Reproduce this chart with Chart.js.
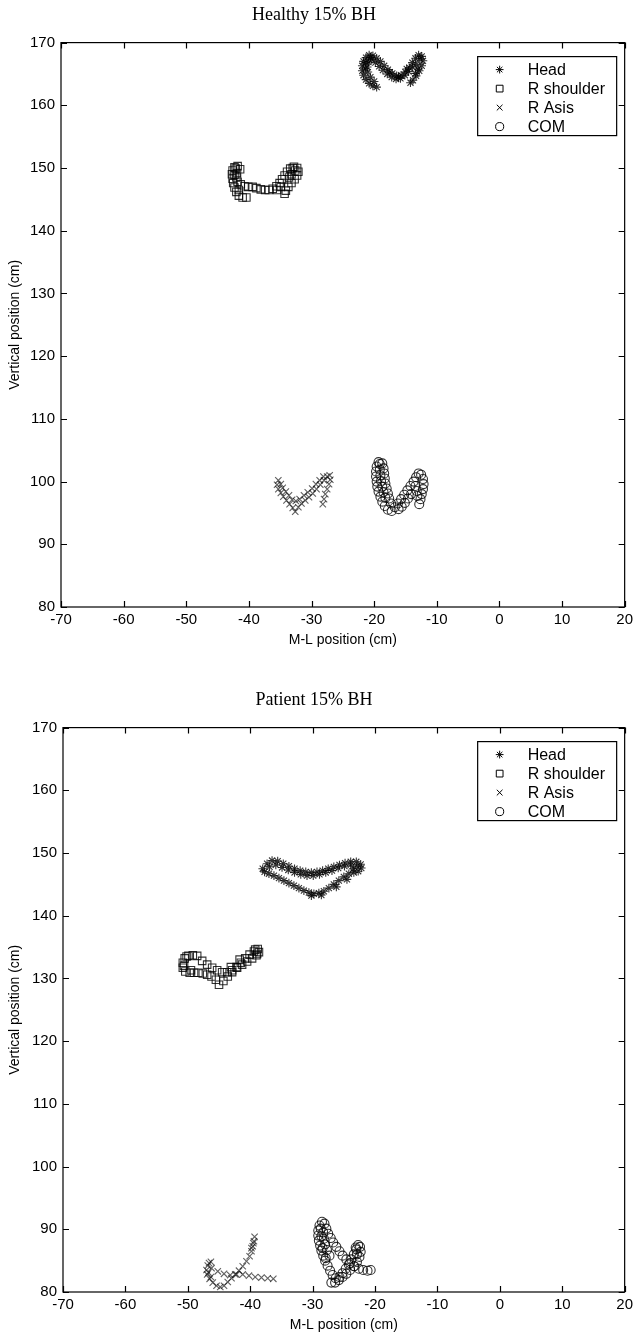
<!DOCTYPE html>
<html>
<head>
<meta charset="utf-8">
<script src="https://cdn.jsdelivr.net/npm/chart.js@4.4.1/dist/chart.umd.min.js"></script>
<style>
    body { margin: 0; background: #fff; }
    .wrap { position: absolute; left: 0; width: 637px; height: 655px; }
</style>
</head>
<body>
<div class="wrap" style="top:0"><canvas id="healthyChart" width="637" height="655"></canvas></div>
<div class="wrap" style="top:685px"><canvas id="patientChart" width="637" height="655"></canvas></div>
<script>
// axis ticks
const xTicks = [-70, -60, -50, -40, -30, -20, -10, 0, 10, 20];
const yTicks = [80, 90, 100, 110, 120, 130, 140, 150, 160, 170];
const seriesNames = ['Head', 'R shoulder', 'R Asis', 'COM'];

// Healthy 15% BH  ([x, y] in cm)
const healthyHead = [
    [-19.6,162.9],[-20.2,163.1],[-20.8,163.5],[-21.3,164.1],[-21.7,164.8],[-21.9,165.5],[-21.9,166.3],[-21.7,167.0],
    [-21.3,167.6],[-20.8,168.0],[-20.2,167.9],[-19.6,167.5],[-19.0,167.0],[-18.4,166.3],[-17.8,165.7],[-17.1,165.1],
    [-16.4,164.7],[-15.7,164.8],[-15.0,165.3],[-14.4,166.0],[-13.9,166.8],[-13.4,167.5],[-12.9,168.0],[-12.4,167.8],
    [-12.2,167.1],[-12.4,166.3],[-12.8,165.5],[-13.3,164.7],[-13.8,164.0],[-14.2,163.6],
    [-20.0,163.8],[-20.6,164.5],[-21.0,165.3],[-21.1,166.1],[-20.9,166.9],[-20.4,167.3],[-19.8,166.8],[-19.2,166.2],
    [-18.6,165.6],[-17.9,165.0],[-17.2,164.5],[-16.5,164.2],[-15.8,164.3],[-15.1,164.8],[-14.5,165.4],[-13.9,166.1],
    [-13.3,166.5],[-13.0,165.8],[-13.4,165.1],
    [-21.4,165.9],[-21.3,166.8],[-20.6,167.6],[-17.5,165.3],[-16.1,164.5],[-14.8,165.8],[-12.7,167.4]
];
const healthyShoulder = [
    [-41.8,150.3],[-42.3,150.1],[-42.6,149.6],[-42.7,149.0],[-42.6,148.3],[-42.5,147.6],[-42.3,146.9],[-42.0,146.2],
    [-41.6,145.6],[-41.0,145.3],[-40.4,145.3],
    [-41.4,149.8],[-41.9,149.2],[-42.0,148.5],[-41.8,147.8],[-41.3,147.4],[-40.7,147.1],[-40.1,147.0],[-39.4,147.0],
    [-38.8,146.8],[-38.1,146.6],[-37.4,146.5],[-36.8,146.5],[-36.2,146.7],[-35.6,147.1],[-35.1,147.6],[-34.7,148.2],
    [-34.3,148.8],[-33.9,149.4],[-33.4,149.9],[-32.8,150.2],[-32.3,150.0],[-32.1,149.4],[-32.3,148.8],[-32.7,148.2],
    [-33.2,147.6],[-33.7,147.0],[-34.1,146.4],[-34.3,145.9],
    [-33.2,149.0],[-33.6,148.5],[-34.9,147.0],[-35.5,146.5],
    [-42.1,149.9],[-42.3,148.9],[-41.6,146.5],[-32.6,149.6],[-33.0,150.0]
];
const healthyAsis = [
    [-35.3,100.2],[-35.5,99.5],[-35.3,98.8],[-34.9,98.2],[-34.5,97.6],[-34.0,97.0],[-33.5,96.4],[-33.0,95.8],
    [-32.6,95.2],[-32.1,95.9],[-31.6,96.5],[-31.0,97.0],[-30.4,97.5],[-29.8,98.1],[-29.2,98.8],[-28.6,99.5],
    [-28.0,100.2],[-27.5,100.8],[-27.1,101.0],[-27.0,100.3],[-27.2,99.6],[-27.5,98.8],[-27.8,98.0],[-28.0,97.2],
    [-28.2,96.4],
    [-34.9,99.6],[-34.6,99.0],[-34.1,98.4],[-33.6,97.8],[-33.1,97.1],[-32.5,96.9],[-31.9,97.2],[-31.2,97.8],
    [-30.6,98.3],[-29.9,98.9],[-29.3,99.6],[-28.7,100.2],[-28.1,100.8]
];
const healthyCom = [
    [-19.3,103.1],[-19.6,102.4],[-19.7,101.6],[-19.7,100.8],[-19.6,100.0],[-19.5,99.2],[-19.3,98.4],[-19.0,97.6],
    [-18.7,96.8],[-18.3,96.1],[-17.8,95.5],[-17.2,95.3],
    [-18.7,102.9],[-18.5,102.1],[-18.4,101.3],[-18.3,100.5],[-18.2,99.7],[-18.0,98.9],[-17.8,98.1],[-17.6,97.3],
    [-17.3,96.5],
    [-16.7,95.9],[-16.2,96.5],[-15.7,97.2],[-15.2,97.9],[-14.7,98.6],[-14.2,99.3],[-13.7,100.0],[-13.3,100.7],
    [-12.9,101.3],[-12.5,101.1],[-12.2,100.4],[-12.1,99.6],[-12.2,98.8],[-12.4,98.0],[-12.6,97.2],[-12.8,96.4],
    [-13.4,99.3],[-13.2,98.5],[-13.1,97.7],[-14.1,98.0],[-14.6,97.3],[-15.1,96.6],[-15.6,96.0],[-16.1,95.6],
    [-19.1,102.8],[-19.1,101.9],[-19.0,101.0],[-18.9,100.1],[-18.7,99.2],[-18.5,98.3],[-18.2,97.4]
];

// Patient 15% BH
const patientHead = [
    [-38.0,147.5],[-37.3,148.3],[-36.5,148.8],[-35.6,148.7],[-34.7,148.3],[-33.8,147.9],[-32.9,147.5],[-32.0,147.2],
    [-31.1,147.0],[-30.2,146.9],[-29.3,147.0],[-28.4,147.2],[-27.5,147.5],[-26.6,147.8],[-25.7,148.1],[-24.8,148.4],
    [-23.9,148.6],[-23.0,148.6],[-22.3,148.2],[-22.2,147.6],[-22.7,147.1],[-23.4,146.9],
    [-24.2,146.7],[-25.0,146.2],[-25.8,145.6],[-26.6,145.0],[-27.4,144.4],[-28.2,143.9],[-29.0,143.6],[-29.8,143.5],
    [-30.6,143.7],[-31.4,144.0],[-32.2,144.4],[-33.0,144.8],[-33.8,145.2],[-34.6,145.6],[-35.4,146.0],[-36.2,146.4],
    [-37.0,146.7],[-37.7,147.0],
    [-36.9,147.8],[-35.9,148.1],[-34.9,147.7],[-33.9,147.3],[-32.9,146.9],[-31.9,146.6],[-30.9,146.4],[-29.9,146.4],
    [-28.9,146.6],[-27.9,146.9],[-26.9,147.2],[-25.9,147.6],[-24.9,147.9],[-23.9,148.1],[-22.9,147.9],[-23.5,147.5],
    [-24.5,145.8],[-26.2,144.6],[-28.6,143.3],[-30.2,143.2]
];
const patientShoulder = [
    [-48.5,133.6],[-49.2,133.7],[-49.9,133.6],[-50.5,133.2],[-50.8,132.5],[-50.8,131.7],[-50.4,131.1],[-49.7,130.9],
    [-49.0,130.9],[-48.3,130.9],[-47.6,130.8],[-46.9,130.6],[-46.2,130.3],[-45.5,129.8],[-45.0,129.0],
    [-44.3,129.6],[-43.6,130.3],[-42.9,131.0],[-42.2,131.8],[-41.5,132.5],[-40.8,133.2],[-40.1,133.8],[-39.4,134.3],
    [-38.8,134.7],[-38.6,134.2],[-39.0,133.7],[-39.7,133.2],[-40.5,132.7],[-41.3,132.2],[-42.1,131.7],[-42.9,131.3],
    [-43.7,131.0],[-44.5,131.0],[-45.3,131.3],[-46.1,131.7],[-46.9,132.2],[-47.7,132.8],
    [-50.2,133.5],[-50.6,132.0],[-49.5,131.3],[-39.2,134.6],[-38.9,133.9],[-43.1,131.8],[-41.7,133.0]
];
const patientAsis = [
    [-46.3,84.8],[-46.8,84.2],[-47.0,83.5],[-46.9,82.8],[-46.5,82.1],[-46.0,81.5],[-45.4,81.0],[-44.8,80.8],
    [-44.2,81.0],[-43.6,81.6],[-43.0,82.2],[-42.4,82.8],[-41.8,83.4],[-41.2,84.1],[-40.6,84.9],[-40.1,85.7],
    [-39.8,86.5],[-39.6,87.3],[-39.4,88.1],[-39.3,88.8],
    [-46.2,83.8],[-45.2,83.3],[-44.2,82.9],[-43.2,82.7],[-42.2,82.8],[-41.2,82.8],[-40.2,82.6],[-39.2,82.4],
    [-38.2,82.3],[-37.2,82.2],[-36.3,82.1],
    [-46.6,84.6],[-46.7,83.1],[-46.3,82.4],[-39.5,87.8],[-39.8,87.0]
];
const patientCom = [
    [-28.5,91.2],[-28.9,90.6],[-29.1,89.8],[-29.1,89.0],[-29.0,88.2],[-28.8,87.4],[-28.6,86.6],[-28.3,85.8],
    [-28.0,85.0],[-27.6,84.2],[-27.2,83.4],[-26.8,82.7],[-26.3,82.2],[-25.7,82.4],[-25.2,83.0],[-24.7,83.7],
    [-24.2,84.4],[-23.8,85.2],[-23.4,86.0],[-23.0,86.8],[-22.7,87.5],[-22.4,87.2],[-22.3,86.4],[-22.5,85.6],
    [-22.9,84.8],[-23.4,84.1],[-24.0,83.5],[-24.6,82.9],[-25.2,82.4],[-25.8,81.9],[-26.4,81.5],[-27.0,81.5],
    [-28.1,90.9],[-27.8,90.1],[-27.5,89.3],[-27.1,88.6],[-26.7,87.9],[-26.2,87.2],[-25.7,86.5],[-25.2,85.8],
    [-24.6,85.2],[-24.0,84.6],[-23.3,84.1],[-22.6,83.7],[-21.9,83.5],[-21.2,83.4],[-20.7,83.5],
    [-28.3,89.5],[-28.2,88.5],[-28.0,87.6],[-27.7,86.7],[-27.3,85.8],
    [-28.7,90.1],[-28.6,88.9],[-28.4,87.0],[-27.9,85.4],[-23.1,87.1],[-22.9,86.0]
];

const styles = [
    { pointStyle: 'star', radius: 4.3, color: 'rgba(0,0,0,0.8)' },
    { pointStyle: 'rect', radius: 5.3, color: 'rgba(0,0,0,0.8)' },
    { pointStyle: 'crossRot', radius: 4.5, color: 'rgba(0,0,0,0.62)' },
    { pointStyle: 'circle', radius: 4.5, color: 'rgba(0,0,0,0.8)' }
];

function toPoints(arr) {
    return arr.map(p => ({ x: p[0], y: p[1] }));
}

// inward ticks on all four sides plus full box, like the original figure
const frameTicks = {
    id: 'frameTicks',
    afterDatasetsDraw(chart) {
        const ctx = chart.ctx, a = chart.chartArea;
        const xs = chart.scales.x, ys = chart.scales.y;
        const len = 6;
        ctx.save();
        ctx.strokeStyle = '#000';
        ctx.lineWidth = 1.2;
        ctx.beginPath();
        xs.ticks.forEach(t => {
            const px = Math.round(xs.getPixelForValue(t.value)) + 0.5;
            ctx.moveTo(px, a.bottom); ctx.lineTo(px, a.bottom - len);
            ctx.moveTo(px, a.top); ctx.lineTo(px, a.top + len);
        });
        ys.ticks.forEach(t => {
            const py = Math.round(ys.getPixelForValue(t.value)) + 0.5;
            ctx.moveTo(a.left, py); ctx.lineTo(a.left + len, py);
            ctx.moveTo(a.right, py); ctx.lineTo(a.right - len, py);
        });
        ctx.stroke();
        ctx.strokeRect(a.left, a.top, a.right - a.left, a.bottom - a.top);
        ctx.restore();
    }
};

// boxed legend in the upper right corner of the plot
const boxLegend = {
    id: 'boxLegend',
    afterDraw(chart) {
        const ctx = chart.ctx, a = chart.chartArea;
        const left = a.right - 147, top = a.top + 14, w = 139, h = 79;
        ctx.save();
        ctx.fillStyle = '#fff';
        ctx.fillRect(left, top, w, h);
        ctx.strokeStyle = '#000';
        ctx.lineWidth = 1.2;
        ctx.strokeRect(left, top, w, h);
        ctx.font = '16px "Liberation Sans", Arial, sans-serif';
        ctx.textBaseline = 'middle';
        chart.data.datasets.forEach((ds, i) => {
            const y = top + 13 + i * 19;
            ctx.strokeStyle = '#000';
            ctx.fillStyle = 'rgba(0,0,0,0)';
            ctx.lineWidth = 1;
            Chart.helpers.drawPoint(ctx, {
                pointStyle: ds.pointStyle,
                radius: ds.pointRadius * 0.9,
                borderWidth: 1,
                rotation: 0
            }, left + 22, y);
            ctx.fillStyle = '#000';
            ctx.fillText(ds.label, left + 50, y + 1);
        });
        ctx.restore();
    }
};

function makeChart(id, title, series, yWidth) {
    const ctx = document.getElementById(id);
    return new Chart(ctx, {
        type: 'scatter',
        data: {
            datasets: series.map((s, i) => ({
                label: seriesNames[i],
                data: toPoints(s),
                showLine: false,
                pointStyle: styles[i].pointStyle,
                pointRadius: styles[i].radius,
                pointHoverRadius: styles[i].radius,
                pointBorderWidth: 1.1,
                pointBorderColor: styles[i].color,
                pointBackgroundColor: 'rgba(0,0,0,0)'
            }))
        },
        options: {
            responsive: false,
            animation: false,
            events: [],
            layout: { padding: { right: 9 } },
            plugins: {
                legend: { display: false },
                tooltip: { enabled: false },
                title: {
                    display: true,
                    text: title,
                    color: '#000',
                    font: { family: '"Liberation Serif", "Times New Roman", serif', size: 18, weight: 'normal' },
                    padding: { top: 4, bottom: 17 }
                }
            },
            scales: {
                x: {
                    type: 'linear',
                    min: -70,
                    max: 20,
                    afterBuildTicks: s => { s.ticks = xTicks.map(v => ({ value: v })); },
                    afterFit: s => { s.height = 48; },
                    grid: { display: false, drawTicks: false },
                    border: { display: false },
                    ticks: {
                        color: '#000',
                        padding: 4,
                        maxRotation: 0,
                        font: { family: '"Liberation Sans", Arial, sans-serif', size: 15 }
                    },
                    title: {
                        display: true,
                        text: 'M-L position (cm)',
                        color: '#000',
                        font: { family: '"Liberation Sans", Arial, sans-serif', size: 14 },
                        padding: { top: 0, bottom: 6.6 }
                    }
                },
                y: {
                    type: 'linear',
                    min: 80,
                    max: 170,
                    afterBuildTicks: s => { s.ticks = yTicks.map(v => ({ value: v })); },
                    afterFit: s => { s.width = yWidth; },
                    grid: { display: false, drawTicks: false },
                    border: { display: false },
                    ticks: {
                        color: '#000',
                        padding: 6,
                        font: { family: '"Liberation Sans", Arial, sans-serif', size: 15 }
                    },
                    title: {
                        display: true,
                        text: 'Vertical position (cm)',
                        color: '#000',
                        font: { family: '"Liberation Sans", Arial, sans-serif', size: 14 },
                        padding: { top: 6.6, bottom: 0 }
                    }
                }
            }
        },
        plugins: [frameTicks, boxLegend]
    });
}

makeChart('healthyChart', 'Healthy 15% BH', [healthyHead, healthyShoulder, healthyAsis, healthyCom], 61);
makeChart('patientChart', 'Patient 15% BH', [patientHead, patientShoulder, patientAsis, patientCom], 63);
</script>
</body>
</html>
